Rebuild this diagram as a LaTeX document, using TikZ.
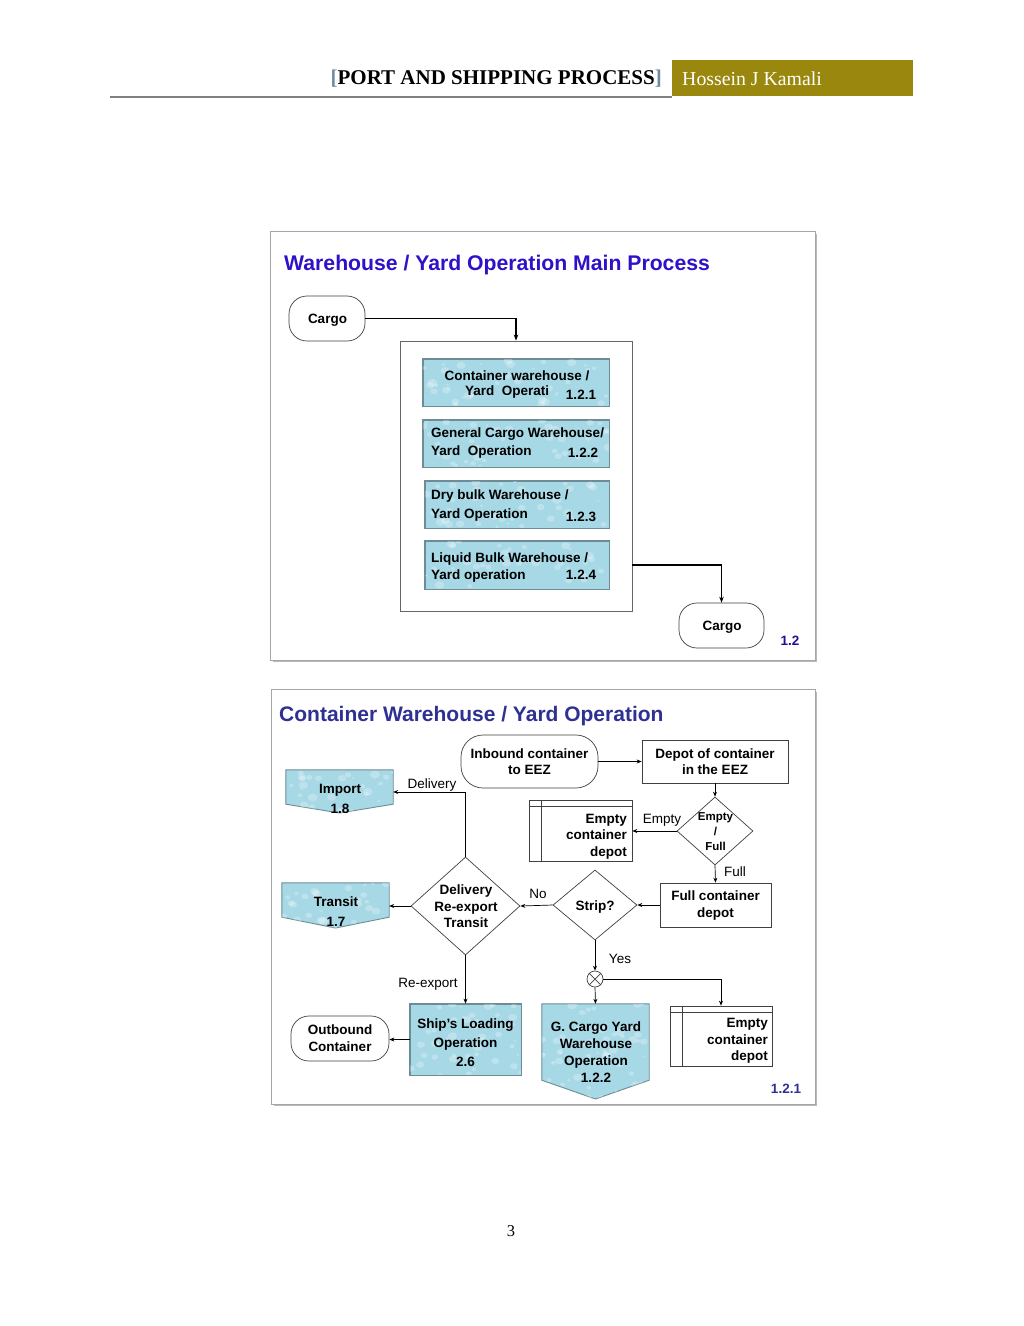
\documentclass[tikz,border=0pt]{standalone}
\usepackage{fontspec}
\setmainfont{Liberation Sans}
\newfontfamily\hdrfont{Liberation Serif}
\usetikzlibrary{arrows.meta,shapes.geometric,calc}
\definecolor{olivebar}{RGB}{153,135,14}
\definecolor{brk}{RGB}{110,140,160}
\definecolor{ttlblue}{RGB}{48,16,200}
\definecolor{ttlnavy}{RGB}{46,49,146}
\definecolor{bfill}{RGB}{166,216,229}
\definecolor{bdraw}{RGB}{110,140,150}
\tikzset{
  lbl/.style={font=\fontsize{13.5}{16}\selectfont, inner sep=0pt},
  bt/.style={font=\fontsize{13.5}{16.5}\selectfont\bfseries, inner sep=0pt, align=center},
  shp/.style={draw=black!75, line width=0.7pt, inner sep=0pt},
  bluebox/.style={draw=bdraw, fill=bfill, line width=0.9pt, inner sep=0pt},
  arr/.style={draw=black, line width=0.7pt, -{Stealth[length=5pt,width=4pt]}},
  arrb/.style={draw=black, line width=1.3pt, -{Stealth[length=6pt,width=4.5pt]}},
  panel/.style={draw=gray!70, line width=1pt, fill=white},
  pshadow/.style={fill=gray!55},
  drop/.style={fill=white, opacity=0.28},
}
% water-drop texture inside a clipped region: x1 y1 x2 y2 count
\newcommand\dropfill[5]{%
  \foreach \k in {1,...,#5}{%
    \pgfmathsetmacro\dx{#1+rnd*(#3-#1)}%
    \pgfmathsetmacro\dy{#2+rnd*(#4-#2)}%
    \pgfmathsetmacro\dr{1.2+rnd*3.8}%
    \fill[drop] (\dx,\dy) ellipse[x radius=\dr, y radius=0.8*\dr];
  }}
\begin{document}
\begin{tikzpicture}[x=1pt,y=-1pt]
\pgfmathsetseed{7}
\useasboundingbox (0,0) rectangle (1024,1326);

% ---------- header ----------
\draw[line width=2pt, color=gray] (110,97) -- (672,97);
\fill[olivebar] (672,60) rectangle (913,96);
\node[anchor=east, inner sep=0pt, font=\hdrfont\fontsize{21}{24}\selectfont\bfseries] (hdr) at (662,79)
  {\textcolor{brk}{[}PORT AND SHIPPING PROCESS\textcolor{brk}{]}};
\node[anchor=west, inner sep=0pt, text=white, font=\hdrfont\fontsize{19.8}{22}\selectfont] (auth) at (682,79) {Hossein J Kamali};

% ---------- top panel ----------
\fill[pshadow] (273,234) rectangle (817,662);
\draw[panel] (270,231) rectangle (815,660);
\node[anchor=west, inner sep=0pt, text=ttlblue, font=\fontsize{21.2}{24}\selectfont\bfseries] (t1) at (284,265.5)
  {Warehouse / Yard Operation Main Process};

\node[shp, bt, rounded corners=18pt, minimum width=76pt, minimum height=45pt] (cargoA) at (327,318.5) {};
\node[bt] (cargoAT) at (327.5,320) {Cargo};
\node[draw=black!60, line width=0.8pt, inner sep=0pt, minimum width=232pt, minimum height=270pt] (grp) at (516,476) {};

\node[bluebox, minimum width=186pt, minimum height=47pt] (b1) at (516,382.5) {};
\node[bluebox, minimum width=186pt, minimum height=47pt] (b2) at (516,443.5) {};
\node[bluebox, minimum width=184pt, minimum height=47pt] (b3) at (517,504.5) {};
\node[bluebox, minimum width=184pt, minimum height=48pt] (b4) at (517,565) {};
\begin{scope}
  \clip (b1.south west) rectangle (b1.north east);
  \dropfill{423}{359}{609}{406}{45}
\end{scope}
\begin{scope}
  \clip (b2.south west) rectangle (b2.north east);
  \dropfill{423}{420}{609}{467}{45}
\end{scope}
\begin{scope}
  \clip (b3.south west) rectangle (b3.north east);
  \dropfill{425}{481}{609}{528}{45}
\end{scope}
\begin{scope}
  \clip (b4.south west) rectangle (b4.north east);
  \dropfill{425}{541}{609}{589}{45}
\end{scope}
\draw[draw=bdraw, line width=0.9pt] (b1.south west) rectangle (b1.north east)
  (b2.south west) rectangle (b2.north east)
  (b3.south west) rectangle (b3.north east)
  (b4.south west) rectangle (b4.north east);

\node[bt] (b1a) at (517,376) {Container warehouse /};
\node[bt, anchor=west] (b1b) at (465,392) {Yard\ \ Operati};
\node[bt] (b1n) at (581,395) {1.2.1};

\node[bt, anchor=west] (b2a) at (431,434) {General Cargo Warehouse/};
\node[bt, anchor=west] (b2b) at (431,452) {Yard\ \ Operation};
\node[bt] (b2n) at (583,453) {1.2.2};

\node[bt, anchor=west] (b3a) at (431,496) {Dry bulk Warehouse /};
\node[bt, anchor=west] (b3b) at (431,515) {Yard Operation};
\node[bt] (b3n) at (581,517) {1.2.3};

\node[bt, anchor=west] (b4a) at (431,559) {Liquid Bulk Warehouse /};
\node[bt, anchor=west] (b4b) at (431,576) {Yard operation};
\node[bt] (b4n) at (581,575) {1.2.4};

\node[shp, rounded corners=18pt, minimum width=85pt, minimum height=45pt] (cargoB) at (721.5,625.5) {};
\node[bt] (cargoBT) at (722,627) {Cargo};
\node[bt, text=ttlblue!75!black] (n12) at (790,641) {1.2};

\draw[arrb] (cargoA.east) -| (grp.north);
\draw[arrb] (grp.east |- b4.east) -| (cargoB.north);

% ---------- bottom panel ----------
\fill[pshadow] (274,692) rectangle (817,1106);
\draw[panel] (271,689) rectangle (815,1104);
\node[anchor=west, inner sep=0pt, text=ttlnavy, font=\fontsize{21}{24}\selectfont\bfseries] (t2) at (279,716)
  {Container Warehouse / Yard Operation};

\node[shp, bt, rounded corners=22pt, minimum width=137pt, minimum height=53pt, font=\fontsize{13.5}{16}\selectfont\bfseries] (inb) at (529.5,761.5) {Inbound container\\to EEZ};
\node[shp, bt, minimum width=146pt, minimum height=43pt, font=\fontsize{13.5}{16}\selectfont\bfseries] (dep) at (715,761.5) {Depot of container\\in the EEZ};

\node[shp, diamond, minimum width=76pt, minimum height=68pt] (ef) at (715,831) {};
\node[inner sep=0pt, align=center, font=\fontsize{11.5}{15}\selectfont\bfseries] (efT) at (715.5,832) {Empty\\/\\Full};

\node[shp, minimum width=103pt, minimum height=61pt] (ecdA) at (580.5,830.5) {};
\draw[shp] ([yshift=-7pt]ecdA.north west) -- ([yshift=-7pt]ecdA.north east);
\draw[shp] ([xshift=13pt]ecdA.north west) -- ([xshift=13pt]ecdA.south west);
\node[bt, align=right, anchor=east] (ecdAT) at (627,836.5) {Empty\\container\\depot};

\node[shp, bt, minimum width=111pt, minimum height=44pt, font=\fontsize{13.5}{17}\selectfont\bfseries] (fcd) at (715.5,905) {Full container\\depot};

\node[shp, diamond, minimum width=84pt, minimum height=70pt] (strip) at (595,905) {};
\node[bt] (stripT) at (595,907) {Strip?};

\node[shp, diamond, minimum width=109pt, minimum height=98pt] (drt) at (465.5,906) {};
\node[bt] (drtT) at (466,906.5) {Delivery\\Re-export\\Transit};

% Import off-page connector
\node[inner sep=0pt, minimum width=107pt, minimum height=34pt] (imp) at (339.5,787) {};
\draw[bluebox] (imp.north west) -- (imp.north east) -- (imp.south east) -- (339.5,813) -- (imp.south west) -- cycle;
\begin{scope}
  \clip (imp.north west) -- (imp.north east) -- (imp.south east) -- (339.5,813) -- (imp.south west) -- cycle;
  \dropfill{286}{770}{393}{813}{30}
\end{scope}
\node[bt, font=\fontsize{13.5}{20}\selectfont\bfseries] (impT) at (340,799) {Import\\1.8};

% Transit off-page connector
\node[inner sep=0pt, minimum width=107pt, minimum height=34pt] (trn) at (335.5,900) {};
\draw[bluebox] (trn.north west) -- (trn.north east) -- (trn.south east) -- (335.5,928) -- (trn.south west) -- cycle;
\begin{scope}
  \clip (trn.north west) -- (trn.north east) -- (trn.south east) -- (335.5,928) -- (trn.south west) -- cycle;
  \dropfill{282}{883}{389}{928}{30}
\end{scope}
\node[bt, font=\fontsize{13.5}{20}\selectfont\bfseries] (trnT) at (336,912) {Transit\\1.7};

% Outbound
\node[shp, bt, rounded corners=18pt, minimum width=98pt, minimum height=45pt, font=\fontsize{13.5}{17}\selectfont\bfseries] (outb) at (340,1038.5) {Outbound\\Container};

% Ship's loading
\node[bluebox, minimum width=111pt, minimum height=71pt] (ship) at (465.5,1039.5) {};
\begin{scope}
  \clip (ship.south west) rectangle (ship.north east);
  \dropfill{410}{1004}{521}{1075}{50}
\end{scope}
\draw[draw=bdraw, line width=0.9pt] (ship.south west) rectangle (ship.north east);
\node[bt, font=\fontsize{13.5}{19}\selectfont\bfseries] (shipT) at (465.5,1043) {Ship’s Loading\\Operation\\2.6};

% G. Cargo
\node[inner sep=0pt, minimum width=107pt, minimum height=76pt] (gc) at (595.5,1042) {};
\draw[bluebox] (gc.north west) -- (gc.north east) -- (gc.south east) -- (595.5,1099) -- (gc.south west) -- cycle;
\begin{scope}
  \clip (gc.north west) -- (gc.north east) -- (gc.south east) -- (595.5,1099) -- (gc.south west) -- cycle;
  \dropfill{542}{1004}{649}{1099}{55}
\end{scope}
\node[bt, font=\fontsize{13.5}{17}\selectfont\bfseries] (gcT) at (596,1052.5) {G. Cargo Yard\\Warehouse\\Operation\\1.2.2};

% X connector
\node[shp, circle, minimum size=16pt] (xc) at (595,979) {};
\draw[shp] (xc.north west) -- (xc.south east) (xc.north east) -- (xc.south west);

% Empty container depot 2
\node[shp, minimum width=102pt, minimum height=60pt] (ecdB) at (721,1036) {};
\draw[shp] ([yshift=-7pt]ecdB.north west) -- ([yshift=-7pt]ecdB.north east);
\draw[shp] ([xshift=13pt]ecdB.north west) -- ([xshift=13pt]ecdB.south west);
\node[bt, align=right, anchor=east] (ecdBT) at (768,1041) {Empty\\container\\depot};

\node[bt, text=ttlnavy] (n121) at (786,1089) {1.2.1};

% connectors
\draw[arr] (inb.east) -- (dep.west);
\draw[arr] (dep.south) -- (ef.north);
\draw[arr] (ef.west) -- (ef.west -| ecdA.east);
\draw[arr] (ef.south) -- (fcd.north);
\draw[arr] (fcd.west) -- (strip.east);
\draw[arr] (strip.west) -- (drt.east);
\draw[arr] (drt.north) |- ([yshift=-5pt]imp.east);
\draw[arr] (drt.west) -- (drt.west -| trn.east);
\draw[arr] (drt.south) -- (ship.north);
\draw[arr] (ship.west) -- (ship.west -| outb.east);
\draw[arr] (strip.south) -- (xc.north);
\draw[arr] (xc.south) -- (gc.north);
\draw[arr] (xc.east) -| (ecdB.north);

% labels
\node[lbl] (lDel) at (432,785) {Delivery};
\node[lbl] (lEmp) at (662,820) {Empty};
\node[lbl] (lFul) at (735,872) {Full};
\node[lbl] (lNo) at (538,894) {No};
\node[lbl] (lYes) at (620,959) {Yes};
\node[lbl] (lRe) at (428,984) {Re-export};

% page number
\node[inner sep=0pt, font=\hdrfont\fontsize{16.5}{18}\selectfont] (pg) at (511,1231) {3};
\end{tikzpicture}
\end{document}
